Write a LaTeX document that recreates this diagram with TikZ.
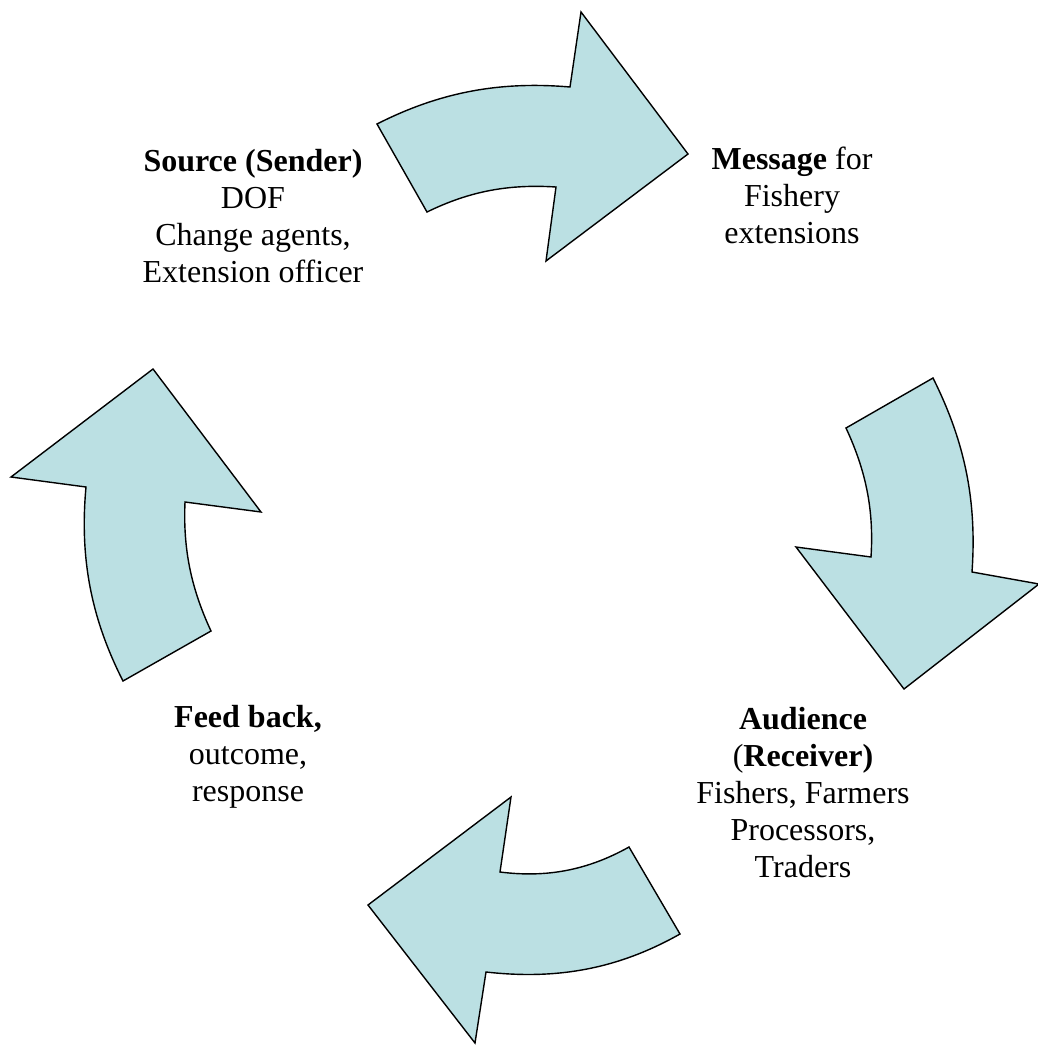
\documentclass[tikz,border=0pt]{standalone}
\usepackage{fontspec}
\setmainfont{Liberation Serif}
\begin{document}
\begin{tikzpicture}[x=1pt,y=-1pt,
  arrowshape/.style={fill=arrowfill,draw=black,line width=1.4pt,line join=miter},
  label/.style={align=center,font=\fontsize{32}{37}\selectfont,inner sep=0pt}]
\definecolor{arrowfill}{RGB}{187,224,227}
\useasboundingbox (0,0) rectangle (1037,1045);
% top arrow (Source -> Message)
\path[arrowshape] (377,124) .. controls (440,92) and (500,81) .. (570,87)
  -- (581,12) -- (688,154) -- (546,261) -- (556,187)
  .. controls (509,184) and (470,191) .. (427,212) -- cycle;
% right arrow (Message -> Audience)
\path[arrowshape] (933,378) .. controls (965,442) and (977,501) .. (972,572)
  -- (1039,584) -- (904,689) -- (796,547) -- (871,557)
  .. controls (874,510) and (866,471) .. (846,428) -- cycle;
% bottom arrow (Audience -> Feed back)
\path[arrowshape] (629,847) -- (680,934)
  .. controls (618,969) and (557,980) .. (486,972)
  -- (475,1043) -- (368,905) -- (511,797) -- (500,872)
  .. controls (547,878) and (588,870) .. (629,847) -- cycle;
% left arrow (Feed back -> Source)
\path[arrowshape] (123,681) .. controls (91,618) and (79.5,558) .. (86,487)
  -- (11,477) -- (153,369) -- (261,512) -- (185,502)
  .. controls (183,549) and (191,588) .. (211,631) -- cycle;
% labels
\node[label] (source) at (253,216) {\textbf{Source (Sender)}\\DOF\\Change agents,\\Extension officer};
\node[label] (message) at (792,195) {\textbf{Message} for\\Fishery\\extensions};
\node[label] (audience) at (803,793) {\textbf{Audience}\\(\textbf{Receiver)}\\Fishers, Farmers\\Processors,\\Traders};
\node[label] (feedback) at (248,757) {\textbf{Feed back,}\\outcome,\\response};
\end{tikzpicture}
\end{document}
